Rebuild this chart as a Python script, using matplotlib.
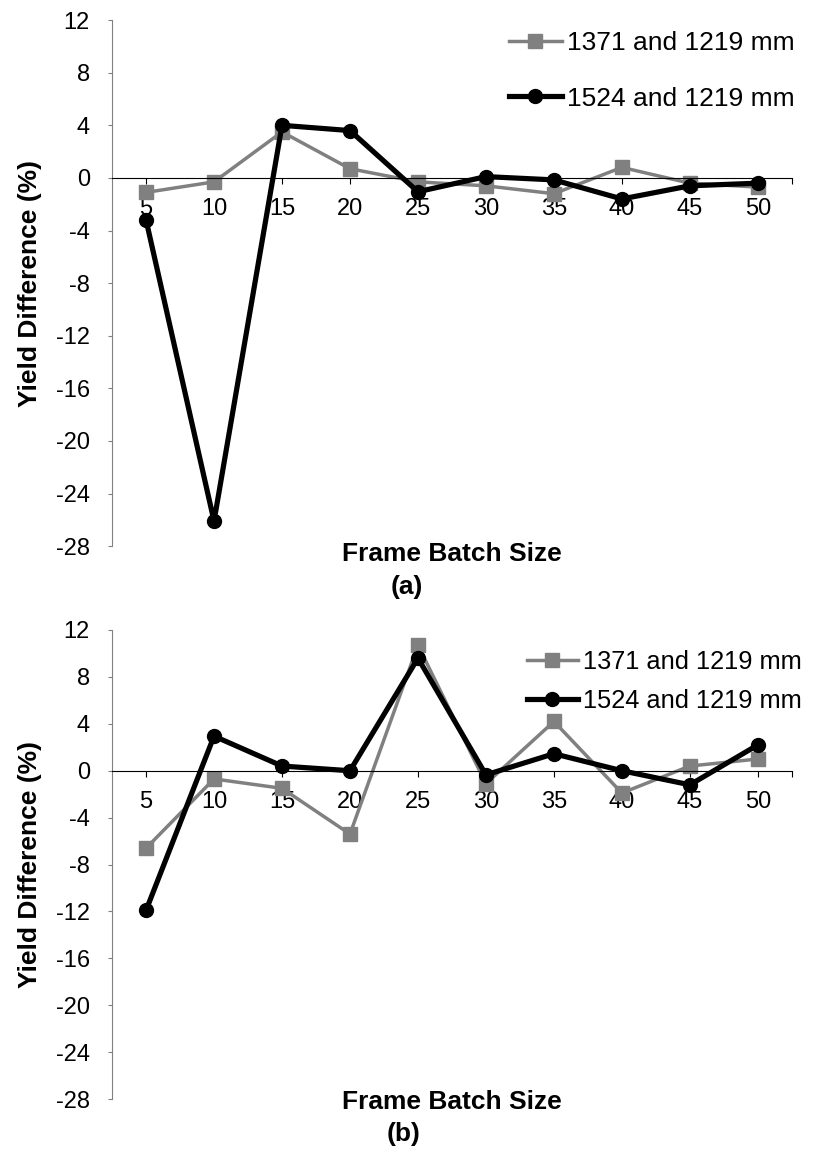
import numpy as np
import matplotlib.pyplot as plt

plt.rcParams['font.family'] = ['Liberation Sans', 'DejaVu Sans']
plt.rcParams['axes.unicode_minus'] = False

batch = ['5', '10', '15', '20', '25', '30', '35', '40', '45', '50']

# (a)
a_1371 = [-1.1, -0.3, 3.5, 0.7, -0.3, -0.6, -1.2, 0.8, -0.4, -0.7]
a_1524 = [-3.2, -26.1, 4.0, 3.6, -1.05, 0.1, -0.15, -1.6, -0.6, -0.4]

# (b)
b_1371 = [-6.6, -0.7, -1.5, -5.4, 10.7, -1.1, 4.2, -1.9, 0.4, 1.0]
b_1524 = [-11.9, 2.95, 0.4, 0.0, 9.6, -0.35, 1.45, 0.0, -1.2, 2.2]

yticks = np.arange(-28, 13, 4)

W, H = 818, 1157
fig = plt.figure(figsize=(W / 100, H / 100), dpi=100)
ax1 = fig.add_axes([0.137, 0.528, 0.831, 0.4546])
ax2 = fig.add_axes([0.137, 0.050, 0.831, 0.4055])

gray = '#808080'
x = np.arange(len(batch))

# legend anchor (pixels from top-left), label spacing, font size
legends = {ax1: ((509, 31), 1.2, 19), ax2: ((527, 650), 0.6, 18.3)}

for ax, s1, s2 in [(ax1, a_1371, a_1524), (ax2, b_1371, b_1524)]:
    ax.plot(x, s1, color=gray, lw=2.5, marker='s', ms=10, label='1371 and 1219 mm')
    ax.plot(x, s2, color='black', lw=3.75, marker='o', ms=10, label='1524 and 1219 mm')
    ax.set_xlim(-0.5, 9.5)
    ax.set_ylim(-28, 12)
    ax.set_yticks(yticks)
    ax.set_xticks(list(x) + [9.5])
    ax.set_xticklabels(batch + [''])
    ax.spines['top'].set_visible(False)
    ax.spines['right'].set_visible(False)
    ax.spines['left'].set_color(gray)
    ax.spines['bottom'].set_position(('data', 0))
    ax.spines['bottom'].set_color('black')
    ax.tick_params(axis='y', direction='out', length=3, colors=gray, labelcolor='black',
                   labelsize=17, pad=13)
    ax.tick_params(axis='x', direction='out', length=4.5, labelsize=17, pad=10)
    ax.set_ylabel('Yield Difference (%)', fontsize=19, fontweight='bold')
    ax.yaxis.set_label_coords(-0.103, 0.5)
    (px, py), sp, fs = legends[ax]
    ax.legend(loc='upper left', bbox_to_anchor=(px / W, 1 - py / H), bbox_transform=fig.transFigure,
              frameon=False, fontsize=fs, handlelength=2.0, handletextpad=0.2,
              labelspacing=sp, borderaxespad=0, borderpad=0)

fig.text(0.5526, 0.521, 'Frame Batch Size', ha='center', va='center', fontsize=19, fontweight='bold')
fig.text(0.4976, 0.4927, '(a)', ha='center', va='center', fontsize=19, fontweight='bold')
fig.text(0.5526, 0.0475, 'Frame Batch Size', ha='center', va='center', fontsize=19, fontweight='bold')
fig.text(0.493, 0.0199, '(b)', ha='center', va='center', fontsize=19, fontweight='bold')

fig.savefig('out.png', dpi=100)
